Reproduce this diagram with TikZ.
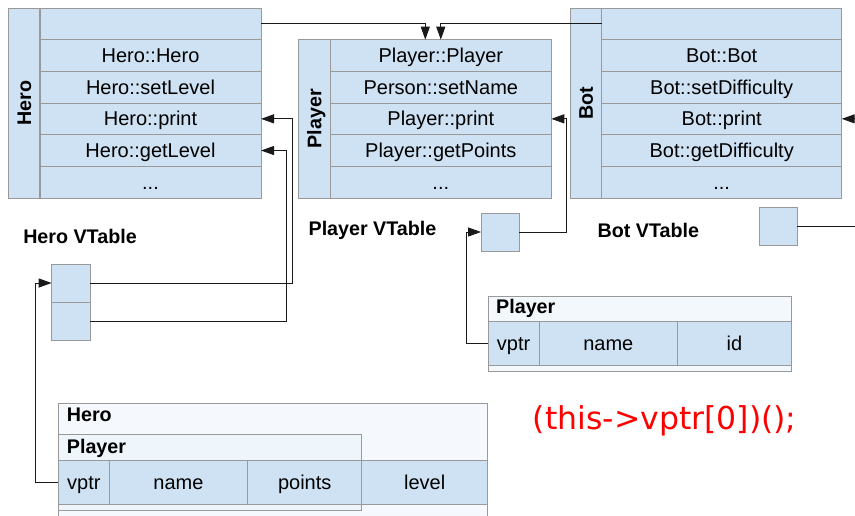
\documentclass[tikz,border=0pt]{standalone}
\usepackage{fontspec}
\setmainfont{Liberation Sans}
\newfontfamily\codefont{DejaVu Sans}
\usepackage{tikz}
\usetikzlibrary{arrows.meta}
\usetikzlibrary{positioning}
\definecolor{cellblue}{HTML}{CFE2F3}
\definecolor{linegray}{HTML}{999999}
\definecolor{codered}{HTML}{FF0000}

\begin{document}
\begin{tikzpicture}[x=1pt,y=-1pt,node distance=31.67pt,
	cell/.style={draw=linegray, fill=cellblue, line width=0.8pt, inner sep=0pt, outer sep=0pt, minimum height=31.67pt, text height=14pt, text depth=0pt, font=\fontsize{20}{23}\selectfont},
	vt row/.style={cell, minimum width=221pt},
	bot row/.style={cell, minimum width=240pt},
	vt label/.style={cell, rotate=90, minimum height=31.7pt, minimum width=190pt, font=\bfseries\fontsize{19.7}{22}\selectfont},
	vptr box/.style={cell, minimum width=38.3pt, minimum height=38pt},
	obj/.style={draw=linegray, line width=0.8pt, inner sep=0pt, outer sep=0pt, anchor=north west},
	obj title/.style={anchor=base west, inner sep=0pt, font=\bfseries\fontsize{19.7}{22}\selectfont},
	conn/.style={-{Triangle[length=13pt,width=9pt]}, line width=1pt, black!90}]
	\useasboundingbox (0,0) rectangle (855,515);
	\clip (0,0) rectangle (855,515);
	
	% Hero vtable
	\node[vt label] (hl) at (24,103) {Hero};
	\node[vt row, anchor=north west] (h0) at (40,8) {};
	\node[vt row] (h1) [below of=h0] {Hero::Hero};
	\node[vt row] (h2) [below of=h1] {Hero::setLevel};
	\node[vt row] (h3) [below of=h2] {Hero::print};
	\node[vt row] (h4) [below of=h3] {Hero::getLevel};
	\node[vt row] (h5) [below of=h4] {...};
	
	% Player vtable
	\node[vt label, minimum width=158.3pt] (pl) at (314.3,118.8) {Player};
	\node[vt row, anchor=north west] (p0) at (330.3,39.67) {Player::Player};
	\node[vt row] (p1) [below of=p0] {Person::setName};
	\node[vt row] (p2) [below of=p1] {Player::print};
	\node[vt row] (p3) [below of=p2] {Player::getPoints};
	\node[vt row] (p4) [below of=p3] {...};
	
	% Bot vtable
	\node[vt label] (bl) at (585.8,103) {Bot};
	\node[bot row, anchor=north west] (b0) at (601.7,8) {};
	\node[bot row] (b1) [below of=b0] {Bot::Bot};
	\node[bot row] (b2) [below of=b1] {Bot::setDifficulty};
	\node[bot row] (b3) [below of=b2] {Bot::print};
	\node[bot row] (b4) [below of=b3] {Bot::getDifficulty};
	\node[bot row] (b5) [below of=b4] {...};
	
	% captions
	\node[obj title, anchor=center] (hcap) at (80,236) {Hero VTable};
	\node[obj title, anchor=center] (pcap) at (372.5,230) {Player VTable};
	\node[obj title, anchor=center] (bcap) at (648.3,230) {Bot VTable};
	
	% vptr boxes
	\node[vptr box] (hv1) at (70.8,283) {};
	\node[vptr box] (hv2) [below=0pt of hv1] {};
	\node[vptr box] (pv) at (500.2,232) {};
	\node[vptr box] (bv) at (778.3,226.2) {};
	
	% Player object
	\node[obj, fill=cellblue!25, minimum width=302.7pt, minimum height=75pt] (pobj) at (488.3,296) {};
	\node[obj title] (pobjt) at (496,313.3) {Player};
	\node[cell, anchor=north west, minimum width=50.7pt, minimum height=43.3pt] (pov) at (488.3,321.7) {vptr};
	\node[cell, minimum width=138.7pt, minimum height=43.3pt] (pname) [right=0pt of pov] {name};
	\node[cell, minimum width=113.3pt, minimum height=43.3pt] (pid) [right=0pt of pname] {id};
	
	% Hero object
	\node[obj, fill=cellblue!20, minimum width=429.4pt, minimum height=130pt] (hobj) at (58.3,403.3) {};
	\node[obj title] (hobjt) at (66.7,421) {Hero};
	\node[obj, fill=cellblue!35, minimum width=303.4pt, minimum height=75.7pt] (hpl) at (58.3,434.3) {};
	\node[obj title] (hplt) at (66.7,453.3) {Player};
	\node[cell, anchor=north west, minimum width=51pt, minimum height=44pt] (hov) at (58.3,460) {vptr};
	\node[cell, minimum width=138.4pt, minimum height=44pt] (hname) [right=0pt of hov] {name};
	\node[cell, minimum width=114pt, minimum height=44pt] (hpts) [right=0pt of hname] {points};
	\node[cell, minimum width=126pt, minimum height=44pt] (hlvl) [right=0pt of hpts] {level};
	
	\node[font=\codefont\fontsize{31.5}{36}\selectfont, text=codered] (call) at (664.7,421) {(this->vptr[0])();};
	
	% pointers
	\draw[conn] (h0.east) -| ([xshift=-15.5pt]p0.north);
	\draw[conn] (b0.west) -| (p0.north);
	\draw[conn] (hv1.east) -| ([xshift=31.5pt]h3.east) -- (h3.east);
	\draw[conn] (hv2.east) -| ([xshift=25pt]h4.east) -- (h4.east);
	\draw[conn] (pv.east) -| ([xshift=15pt]p2.east) -- (p2.east);
	\draw[conn] (bv.east) -| ([xshift=20pt]b3.east) -- (b3.east);
	\draw[conn] (pov.west) -| ([xshift=-15pt]pv.west) -- (pv.west);
	\draw[conn] (hov.west) -| ([xshift=-15.7pt]hv1.west) -- (hv1.west);
	
\end{tikzpicture}
\end{document}
